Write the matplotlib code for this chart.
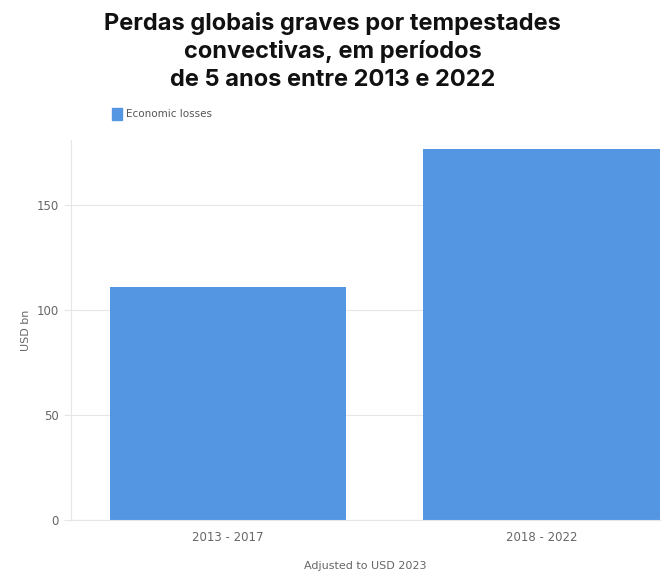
import matplotlib.pyplot as plt
from matplotlib.patches import Rectangle

# Data
periods = ['2013 - 2017', '2018 - 2022']
losses = [111, 177]
y_ticks = [0, 50, 100, 150]

bar_color = '#5596E3'
grey_text = '#666666'
grid_color = '#E6E6E6'

fig = plt.figure(figsize=(6.65, 5.72), dpi=100)
ax = fig.add_axes([0.1068, 0.0909, 0.8857, 0.664])

x = range(len(periods))
ax.bar(x, losses, width=0.754, color=bar_color, zorder=2)

ax.set_xlim(-0.5, 1.377)
ax.set_ylim(0, 181)
ax.set_yticks(y_ticks)
ax.set_xticks(list(x))
ax.set_xticklabels(periods)
ax.yaxis.grid(True, color=grid_color, linewidth=0.8, zorder=0)
ax.tick_params(axis='both', colors=grey_text, labelsize=8.5, length=0, pad=8)
ax.tick_params(axis='y', length=5, color=grid_color, pad=4)

for side in ['top', 'right']:
    ax.spines[side].set_visible(False)
ax.spines['left'].set_color(grid_color)
ax.spines['bottom'].set_color(grid_color)

ax.set_ylabel('USD bn', color=grey_text, fontsize=8, labelpad=4)
ax.set_xlabel('Adjusted to USD 2023', color=grey_text, fontsize=8, labelpad=12)

# Title
fig.text(0.5, 0.979, 'Perdas globais graves por tempestades\nconvectivas, em períodos\nde 5 anos entre 2013 e 2022',
         ha='center', va='top', fontsize=17, fontweight='bold', family='Inter',
         linespacing=1.3, color='#111111')

# Legend marker and label
fig.patches.append(Rectangle((112 / 665, 1 - 120 / 572), 10 / 665, 12 / 572,
                             transform=fig.transFigure, color=bar_color))
fig.text(126 / 665, 1 - 114 / 572, 'Economic losses', ha='left', va='center',
         fontsize=7.5, color='#555555')

plt.savefig('out.png', dpi=100)
